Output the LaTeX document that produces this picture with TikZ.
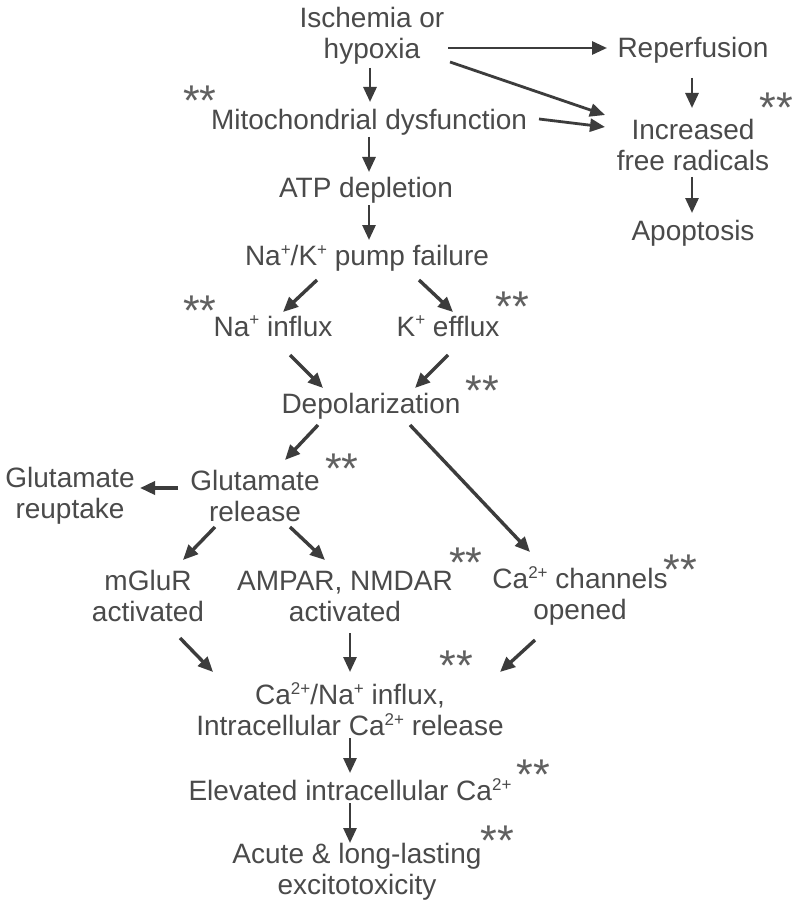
\documentclass[tikz,border=0pt]{standalone}
\usepackage{fontspec}
\setmainfont{Liberation Sans}
\usetikzlibrary{arrows.meta,calc}
\definecolor{txtgray}{HTML}{4A4A4A}
\definecolor{arrgray}{HTML}{3C3C3C}
\definecolor{stargray}{HTML}{606060}
\newcommand{\supr}[1]{\raisebox{0.36em}{\fontsize{17}{17}\selectfont #1}}
\tikzset{
  lbl/.style={font=\fontsize{28}{31}\selectfont, text=txtgray, align=center, inner sep=0pt},
  stars/.style={font=\fontsize{43}{43}\selectfont, text=stargray, inner sep=0pt},
  arr/.style={draw=arrgray, line width=2.8pt, -{Triangle[length=15pt,width=13pt]}},
  arrw/.style={arr, line width=3.4pt}
}
\begin{document}
\begin{tikzpicture}[x=1pt,y=-1pt]
\fill[white] (0,0) rectangle (793,912);
\useasboundingbox (0,0) rectangle (793,912);
% nodes
\node[lbl] (ish) at (372,36) {Ischemia or\\hypoxia};
\node[lbl] (mito) at (369,122) {Mitochondrial dysfunction};
\node[lbl] (atp) at (366,190) {ATP depletion};
\node[lbl] (nak) at (367,258) {Na\supr{+}/K\supr{+} pump failure};
\node[lbl] (na) at (273,326) {Na\supr{+} influx};
\node[lbl] (k) at (448,326) {K\supr{+} efflux};
\node[lbl] (dep) at (371,406) {Depolarization};
\node[lbl] (glu) at (255,496) {Glutamate\\release};
\node[lbl] (reup) at (70,496) {Glutamate\\reuptake};
\node[lbl] (mglur) at (148,596) {mGluR\\activated};
\node[lbl] (ampar) at (345,596) {AMPAR, NMDAR\\activated};
\node[lbl] (cach) at (580,596) {Ca\supr{2+} channels\\opened};
\node[lbl] (cana) at (350,709) {Ca\supr{2+}/Na\supr{+} influx,\\Intracellular Ca\supr{2+} release};
\node[lbl] (elev) at (350,790) {Elevated intracellular Ca\supr{2+}};
\node[lbl] (acute) at (357,872) {Acute \& long-lasting\\excitotoxicity};
\node[lbl] (rep) at (693,50) {Reperfusion};
\node[lbl] (inc) at (693,145) {Increased\\free radicals};
\node[lbl] (apo) at (693,233) {Apoptosis};
% stars
\node[stars] (s1) at (200,101) {**};
\node[stars] (s2) at (776,108) {**};
\node[stars] (s3) at (200,311) {**};
\node[stars] (s4) at (512,307) {**};
\node[stars] (s5) at (482,391) {**};
\node[stars] (s6) at (342,469) {**};
\node[stars] (s7) at (466,563) {**};
\node[stars] (s8) at (680,570) {**};
\node[stars] (s9) at (456,666) {**};
\node[stars] (s10) at (533,775) {**};
\node[stars] (s11) at (497,841) {**};
% arrows
\draw[arr] ($(ish)+(-2,32)$) -- ($(mito)+(1,-20)$);
\draw[arr] ($(ish)+(76,12)$) -- ($(rep)+(-86,-2)$);
\draw[arr] ($(ish)+(78,26)$) -- ($(inc)+(-88,-30)$);
\draw[arr] ($(mito)+(170,-3)$) -- ($(inc)+(-88,-18)$);
\draw[arr] ($(rep)+(-1,28)$) -- ($(inc)+(-1,-37)$);
\draw[arr] ($(inc)+(-1,32)$) -- ($(apo)+(-1,-20)$);
\draw[arr] ($(mito)+(0,15)$) -- ($(atp)+(3,-18)$);
\draw[arr] ($(atp)+(3,15)$) -- ($(nak)+(2,-18)$);
\draw[arrw] ($(nak)+(-50,22)$) -- ($(na)+(10,-14)$);
\draw[arrw] ($(nak)+(52,22)$) -- ($(k)+(5,-14)$);
\draw[arrw] ($(na)+(17,29)$) -- ($(dep)+(-48,-18)$);
\draw[arrw] ($(k)+(0,29)$) -- ($(dep)+(44,-18)$);
\draw[arrw] ($(dep)+(-53,19)$) -- ($(glu)+(30,-36)$);
\draw[arrw] ($(dep)+(39,19)$) -- ($(cach)+(-50,-44)$);
\draw[arrw] ($(glu)+(-77,-8)$) -- ($(reup)+(70,-8)$);
\draw[arrw] ($(glu)+(-40,31)$) -- ($(mglur)+(35,-36)$);
\draw[arrw] ($(glu)+(35,31)$) -- ($(ampar)+(-20,-36)$);
\draw[arrw] ($(mglur)+(32,42)$) -- ($(cana)+(-137,-37)$);
\draw[arr] ($(ampar)+(5,37)$) -- ($(cana)+(0,-37)$);
\draw[arrw] ($(cach)+(-45,44)$) -- ($(cana)+(150,-37)$);
\draw[arr] ($(cana)+(0,29)$) -- ($(elev)+(0,-17)$);
\draw[arr] ($(elev)+(0,13)$) -- ($(acute)+(-7,-29)$);
\end{tikzpicture}
\end{document}
